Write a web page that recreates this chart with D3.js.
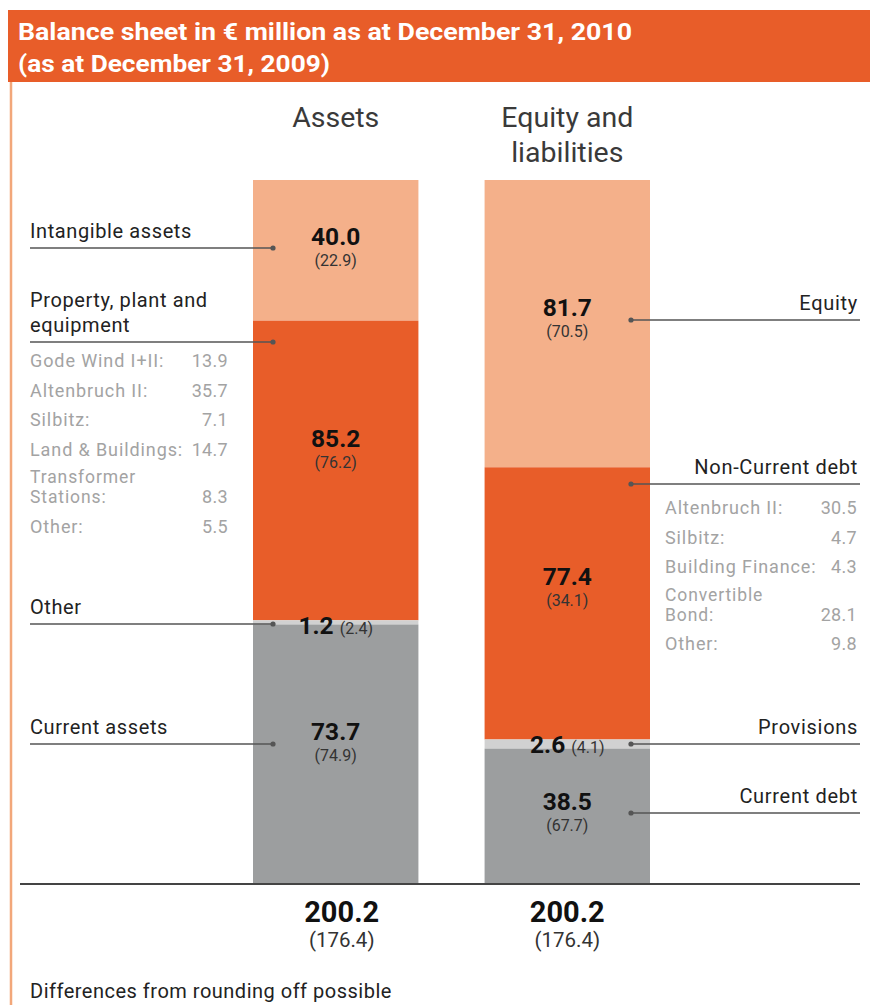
<!DOCTYPE html>
<html><head><meta charset="utf-8">
<script src="https://cdn.jsdelivr.net/npm/d3@7"></script>
<style>
html,body{margin:0;padding:0;background:#fff;}
svg text{font-family:Roboto,"Noto Sans",sans-serif;}
</style>
</head><body>
<svg id="c" width="870" height="1005"></svg>
<script>
// ---- data ----
const titleLines = ["Balance sheet in € million as at December 31, 2010", "(as at December 31, 2009)"];
const columns = ["Assets", "Equity and liabilities"];
const assetCats = ["Intangible assets", "Property, plant and equipment", "Other", "Current assets"];
const assetValues = [40.0, 85.2, 1.2, 73.7];
const assetPrior = [22.9, 76.2, 2.4, 74.9];
const equityCats = ["Equity", "Non-Current debt", "Provisions", "Current debt"];
const equityValues = [81.7, 77.4, 2.6, 38.5];
const equityPrior = [70.5, 34.1, 4.1, 67.7];
const ppeItems = ["Gode Wind I+II:", "Altenbruch II:", "Silbitz:", "Land & Buildings:", "Transformer Stations:", "Other:"];
const ppeValues = [13.9, 35.7, 7.1, 14.7, 8.3, 5.5];
const debtItems = ["Altenbruch II:", "Silbitz:", "Building Finance:", "Convertible Bond:", "Other:"];
const debtValues = [30.5, 4.7, 4.3, 28.1, 9.8];
const totals = [200.2, 200.2];
const totalsPrior = [176.4, 176.4];
const footnote = "Differences from rounding off possible";

// ---- colours / layout ----
const segColors = ["#F4B08A", "#E85D29", "#D1D1D1", "#9C9E9F"];
const svg = d3.select("#c");
const fmt = d3.format(".1f");

// header
svg.append("rect").attr("x", 8).attr("y", 10).attr("width", 862).attr("height", 72).attr("fill", "#E85D29");
svg.append("line").attr("x1", 11).attr("x2", 11).attr("y1", 82).attr("y2", 1005)
  .attr("stroke", "#F2A77A").attr("stroke-width", 2.5);
svg.selectAll("text.title").data(titleLines).join("text").attr("class", "title")
  .attr("x", 18).attr("y", (d, i) => 40 + i * 32)
  .attr("fill", "#fff").attr("font-size", 24).attr("font-weight", "bold")
  .attr("textLength", (d, i) => i === 0 ? 614 : 312).attr("lengthAdjust", "spacingAndGlyphs")
  .text(d => d);

const y = d3.scaleLinear().domain([0, d3.max(totals)]).range([884, 180]);
const x = d3.scaleBand().domain(columns).range([253, 650]).paddingInner(66 / 231).paddingOuter(0);

// stack from the top (first category on top)
function stackOf(vals, total) {
  let acc = 0;
  return vals.map(v => { const s = { top: total - acc, bottom: total - acc - v, v }; acc += v; return s; });
}
const stacks = [stackOf(assetValues, totals[0]), stackOf(equityValues, totals[1])];

columns.forEach((col, ci) => {
  svg.append("g").selectAll("rect").data(stacks[ci]).join("rect")
    .attr("x", x(col)).attr("width", x.bandwidth())
    .attr("y", d => y(d.top)).attr("height", d => Math.max(0, y(d.bottom) - y(d.top)))
    .attr("fill", (d, i) => segColors[i]);
});

// column titles
const cx = c => x(c) + x.bandwidth() / 2;
svg.append("text").attr("x", cx(columns[0])).attr("y", 127).attr("text-anchor", "middle")
  .attr("font-size", 28.5).attr("fill", "#3a3a3a").text(columns[0]);
["Equity and", "liabilities"].forEach((t, i) =>
  svg.append("text").attr("x", cx(columns[1])).attr("y", 127 + i * 35).attr("text-anchor", "middle")
    .attr("font-size", 28.5).attr("fill", "#3a3a3a").text(t));

// axis baseline
svg.append("line").attr("x1", 20).attr("x2", 860).attr("y1", y(0)).attr("y2", y(0))
  .attr("stroke", "#444").attr("stroke-width", 2.2);

// value labels inside bars
const assetLabelY = [245, 447, null, 740];
const equityLabelY = [316, 585, null, 810];
function valueLabels(col, vals, prior, labelYs) {
  vals.forEach((v, i) => {
    if (labelYs[i] === null) return;
    svg.append("text").attr("x", cx(col)).attr("y", labelYs[i]).attr("text-anchor", "middle")
      .attr("font-size", 24.5).attr("font-weight", "bold").attr("fill", "#111").text(fmt(v));
    svg.append("text").attr("x", cx(col)).attr("y", labelYs[i] + 21).attr("text-anchor", "middle")
      .attr("font-size", 16).attr("fill", "#333").text("(" + fmt(prior[i]) + ")");
  });
}
valueLabels(columns[0], assetValues, assetPrior, assetLabelY);
valueLabels(columns[1], equityValues, equityPrior, equityLabelY);

// thin-segment inline labels
function inlineLabel(col, v, p, yy) {
  const t = svg.append("text").attr("x", cx(col)).attr("y", yy).attr("text-anchor", "middle");
  t.append("tspan").attr("font-size", 24.5).attr("font-weight", "bold").attr("fill", "#111").text(fmt(v) + " ");
  t.append("tspan").attr("font-size", 16).attr("fill", "#333").text("(" + fmt(p) + ")");
}
inlineLabel(columns[0], assetValues[2], assetPrior[2], 634);
inlineLabel(columns[1], equityValues[2], equityPrior[2], 753);

// leaders, left side
const leftLeaderY = [248, 342, 624, 744];
const leftLabelLines = [["Intangible assets"], ["Property, plant and", "equipment"], ["Other"], ["Current assets"]];
const dotXL = x(columns[0]) + 20;
assetCats.forEach((c, i) => {
  const ly = leftLeaderY[i];
  svg.append("line").attr("x1", 30).attr("x2", dotXL).attr("y1", ly).attr("y2", ly)
    .attr("stroke", "#555").attr("stroke-width", 1.5);
  svg.append("circle").attr("cx", dotXL).attr("cy", ly).attr("r", 2.6).attr("fill", "#555");
  const lines = leftLabelLines[i];
  const t = svg.append("text").attr("x", 30).attr("y", ly - 10 - (lines.length - 1) * 25)
    .attr("font-size", 20).attr("letter-spacing", 0.6).attr("fill", "#222");
  lines.forEach((s, k) => t.append("tspan").attr("x", 30).attr("dy", k === 0 ? 0 : 25).text(s));
});

// leaders, right side
const rightLeaderY = [320, 484, 744, 813];
const dotXR = x(columns[1]) + x.bandwidth() - 19;
equityCats.forEach((c, i) => {
  const ly = rightLeaderY[i];
  svg.append("line").attr("x1", dotXR).attr("x2", 860).attr("y1", ly).attr("y2", ly)
    .attr("stroke", "#555").attr("stroke-width", 1.5);
  svg.append("circle").attr("cx", dotXR).attr("cy", ly).attr("r", 2.6).attr("fill", "#555");
  svg.append("text").attr("x", 858).attr("y", ly - 10).attr("text-anchor", "end")
    .attr("font-size", 20).attr("letter-spacing", 0.7).attr("fill", "#222").text(c);
});

// breakdown lists
function breakdown(items, vals, xl, xr, y0) {
  let yy = y0;
  items.forEach((t, i) => {
    const words = t.split(" ");
    const twoLine = t.startsWith("Transformer") || t.startsWith("Convertible");
    if (twoLine) {
      svg.append("text").attr("x", xl).attr("y", yy - 2).attr("font-size", 17.5)
        .attr("letter-spacing", 0.9).attr("fill", "#A3A3A3").text(words[0]);
      yy += 18;
      svg.append("text").attr("x", xl).attr("y", yy).attr("font-size", 17.5)
        .attr("letter-spacing", 0.9).attr("fill", "#A3A3A3").text(words.slice(1).join(" "));
    } else {
      svg.append("text").attr("x", xl).attr("y", yy).attr("font-size", 18)
        .attr("letter-spacing", 0.9).attr("fill", "#A3A3A3").text(t);
    }
    svg.append("text").attr("x", xr).attr("y", yy).attr("text-anchor", "end")
      .attr("font-size", 18).attr("letter-spacing", 0.3).attr("fill", "#A3A3A3").text(fmt(vals[i]));
    yy += 29.5;
  });
}
breakdown(ppeItems, ppeValues, 30, 228, 367);
breakdown(debtItems, debtValues, 665, 857, 514);

// totals
columns.forEach((col, i) => {
  svg.append("text").attr("x", cx(col) + (i === 0 ? 6 : 0)).attr("y", 922).attr("text-anchor", "middle")
    .attr("font-size", 29).attr("font-weight", "bold").attr("fill", "#111").text(fmt(totals[i]));
  svg.append("text").attr("x", cx(col) + (i === 0 ? 6 : 0)).attr("y", 947).attr("text-anchor", "middle")
    .attr("font-size", 20.5).attr("fill", "#333").text("(" + fmt(totalsPrior[i]) + ")");
});

svg.append("text").attr("x", 30).attr("y", 998).attr("font-size", 20).attr("letter-spacing", 0.5)
  .attr("fill", "#222").text(footnote);
</script>
</body></html>
